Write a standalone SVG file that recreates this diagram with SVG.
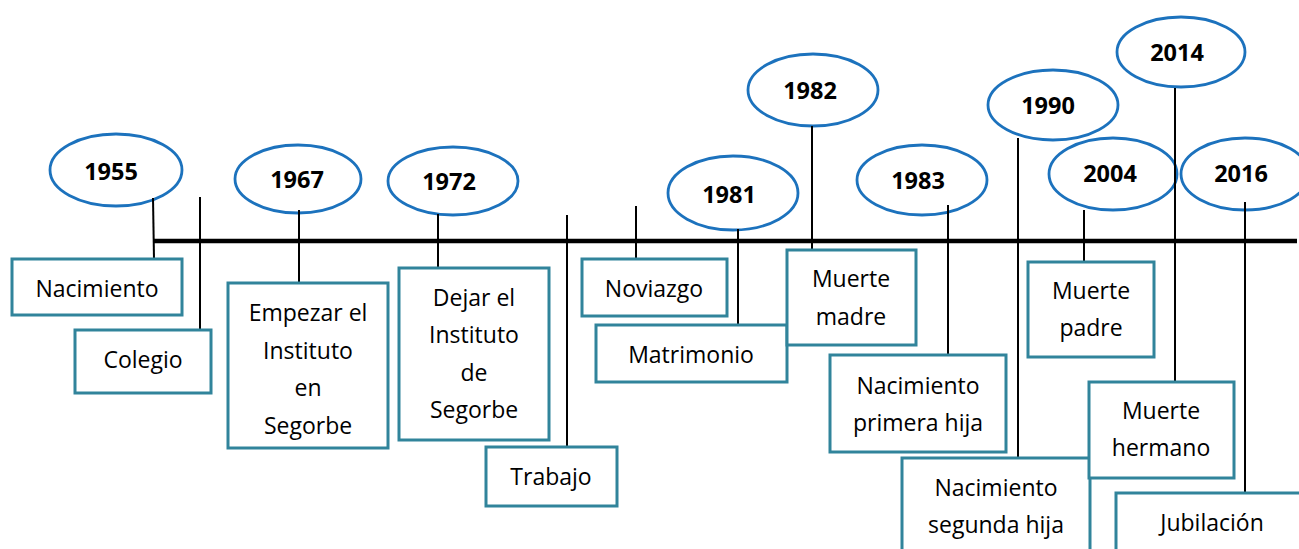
<svg xmlns="http://www.w3.org/2000/svg" width="1299" height="549" viewBox="0 0 1299 549">
<style>
.yr{fill:#fff;stroke:#1C72BD;stroke-width:2.8}
.bx{fill:#fff;stroke:#31849B;stroke-width:3}
.yt{font-family:"Open Sans","Liberation Sans",sans-serif;font-size:23.5px;font-weight:bold;fill:#000;text-anchor:middle;dominant-baseline:central}
.lt{font-family:"Open Sans","Liberation Sans",sans-serif;font-size:23px;fill:#000;text-anchor:middle;dominant-baseline:central}
.c{stroke:#000;stroke-width:2;fill:none}
.axis{stroke:#000;stroke-width:4.5;fill:none}
</style>
<g id="years">
<g id="y1955"><ellipse class="yr" cx="116" cy="170" rx="66" ry="36"/><text class="yt" x="111" y="171">1955</text></g>
<g id="y1967"><ellipse class="yr" cx="298" cy="179" rx="63" ry="34"/><text class="yt" x="297" y="179">1967</text></g>
<g id="y1972"><ellipse class="yr" cx="453" cy="181" rx="65" ry="34"/><text class="yt" x="449" y="181">1972</text></g>
<g id="y1981"><ellipse class="yr" cx="733" cy="193" rx="65" ry="37"/><text class="yt" x="729" y="194">1981</text></g>
<g id="y1982"><ellipse class="yr" cx="813" cy="90" rx="65" ry="36"/><text class="yt" x="810" y="90">1982</text></g>
<g id="y1983"><ellipse class="yr" cx="922" cy="180" rx="65" ry="35"/><text class="yt" x="918" y="180">1983</text></g>
<g id="y1990"><ellipse class="yr" cx="1053" cy="105" rx="65" ry="35"/><text class="yt" x="1048" y="105">1990</text></g>
<g id="y2004"><ellipse class="yr" cx="1113" cy="174" rx="64" ry="36"/><text class="yt" x="1110" y="173">2004</text></g>
<g id="y2014"><ellipse class="yr" cx="1181" cy="52" rx="64" ry="35"/><text class="yt" x="1177" y="52">2014</text></g>
<g id="y2016"><ellipse class="yr" cx="1245" cy="174" rx="64" ry="36"/><text class="yt" x="1241" y="173">2016</text></g>
</g>
<g id="connectors">
<line class="axis" x1="153" y1="241" x2="1297" y2="241"/>
<line class="c" x1="153" y1="198" x2="154" y2="259"/>
<line class="c" x1="200" y1="197" x2="200" y2="330"/>
<line class="c" x1="299" y1="210" x2="299" y2="283"/>
<line class="c" x1="438" y1="214" x2="438" y2="268"/>
<line class="c" x1="567" y1="215" x2="567" y2="447"/>
<line class="c" x1="636" y1="206" x2="636" y2="259"/>
<line class="c" x1="738" y1="229" x2="738" y2="325"/>
<line class="c" x1="812" y1="126" x2="812" y2="250"/>
<line class="c" x1="948" y1="205" x2="948" y2="355"/>
<line class="c" x1="1018" y1="138" x2="1018" y2="458"/>
<line class="c" x1="1084" y1="210" x2="1084" y2="262"/>
<line class="c" x1="1175" y1="88" x2="1175" y2="382"/>
<line class="c" x1="1245" y1="202" x2="1245" y2="493"/>
</g>
<g id="events">
<g id="nacimiento"><rect class="bx" x="12" y="259" width="170" height="56"/><text class="lt" x="97" y="288">Nacimiento</text></g>
<g id="colegio"><rect class="bx" x="75" y="330" width="136" height="63"/><text class="lt" x="143" y="359">Colegio</text></g>
<g id="instituto"><rect class="bx" x="228" y="283" width="160" height="165"/><text class="lt" x="308" y="312">Empezar el</text><text class="lt" x="308" y="350">Instituto</text><text class="lt" x="308" y="387">en</text><text class="lt" x="308" y="425">Segorbe</text></g>
<g id="dejar"><rect class="bx" x="399" y="268" width="150" height="172"/><text class="lt" x="474" y="297">Dejar el</text><text class="lt" x="474" y="334">Instituto</text><text class="lt" x="474" y="372">de</text><text class="lt" x="474" y="409">Segorbe</text></g>
<g id="trabajo"><rect class="bx" x="486" y="447" width="131" height="59"/><text class="lt" x="551" y="476">Trabajo</text></g>
<g id="noviazgo"><rect class="bx" x="582" y="259" width="145" height="57"/><text class="lt" x="654" y="288">Noviazgo</text></g>
<g id="matrimonio"><rect class="bx" x="596" y="325" width="191" height="57"/><text class="lt" x="691" y="354">Matrimonio</text></g>
<g id="madre"><rect class="bx" x="787" y="250" width="129" height="95"/><text class="lt" x="851" y="278">Muerte</text><text class="lt" x="851" y="316">madre</text></g>
<g id="hija1"><rect class="bx" x="830" y="355" width="176" height="97"/><text class="lt" x="918" y="385">Nacimiento</text><text class="lt" x="918" y="422">primera hija</text></g>
<g id="hija2"><rect class="bx" x="902" y="458" width="188" height="95"/><text class="lt" x="996" y="487">Nacimiento</text><text class="lt" x="996" y="524">segunda hija</text></g>
<g id="padre"><rect class="bx" x="1028" y="262" width="126" height="95"/><text class="lt" x="1091" y="290">Muerte</text><text class="lt" x="1091" y="327">padre</text></g>
<g id="hermano"><rect class="bx" x="1089" y="382" width="145" height="96"/><text class="lt" x="1161" y="410">Muerte</text><text class="lt" x="1161" y="447">hermano</text></g>
<g id="jubilacion"><rect class="bx" x="1116" y="493" width="190" height="60"/><text class="lt" x="1212" y="522">Jubilación</text></g>
</g>
</svg>
